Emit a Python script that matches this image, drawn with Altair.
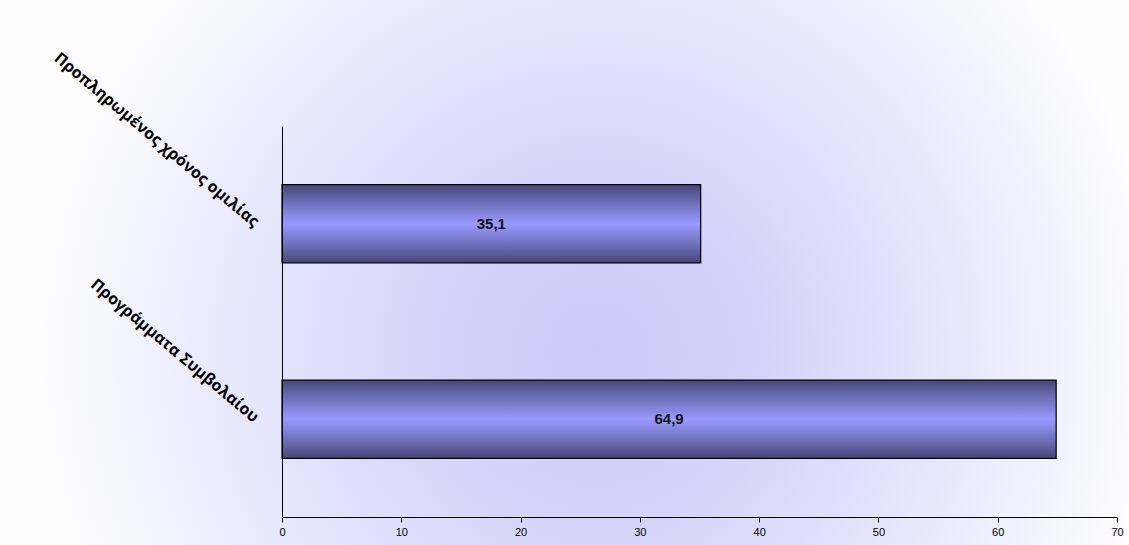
import altair as alt
import pandas as pd

categories = ["Προπληρωμένος χρόνος ομιλίας", "Προγράμματα Συμβολαίου"]
values = [35.1, 64.9]
labels = ["35,1", "64,9"]

df = pd.DataFrame({"cat": categories, "value": values, "label": labels})

W, H = 835, 391
PL, PT, PR, PB = 282, 126, 12, 28

bg = alt.Chart(pd.DataFrame({"a": [0]})).mark_rect(
    fill=alt.RadialGradient(
        gradient="radial",
        x1=0.53, y1=0.57, r1=0.0,
        x2=0.53, y2=0.57, r2=0.5,
        stops=[
            alt.GradientStop(offset=0.0, color="#c9c9f8"),
            alt.GradientStop(offset=0.3, color="#d4d4fa"),
            alt.GradientStop(offset=0.65, color="#e8e8fd"),
            alt.GradientStop(offset=1.0, color="#fdfdff"),
        ],
    ),
    clip=False,
).encode(
    x=alt.value(-PL), x2=alt.value(W + PR),
    y=alt.value(-PT), y2=alt.value(H + PB),
)

yenc = alt.Y(
    "cat:N", sort=categories,
    scale=alt.Scale(paddingInner=0.6, paddingOuter=0.3),
    axis=alt.Axis(
        title=None, ticks=False, domainColor="black", domainWidth=1,
        labelAngle=40, labelAlign="right", labelBaseline="middle",
        labelFont="Open Sans", labelFontWeight="bold", labelFontSize=16,
        labelColor="black", labelPadding=26, labelLimit=0, zindex=2,
    ),
)
xenc = alt.X(
    "value:Q",
    scale=alt.Scale(domain=[0, 70], nice=False),
    axis=alt.Axis(
        title=None, values=[0, 10, 20, 30, 40, 50, 60, 70], grid=False,
        domainColor="black", domainWidth=1.2, tickColor="black", tickSize=5,
        labelFont="Liberation Sans", labelFontSize=11, labelColor="black",
        labelPadding=4, labelFlush=False, zindex=2,
    ),
)

bars = alt.Chart(df).mark_bar(
    fill=alt.LinearGradient(
        gradient="linear", x1=0, x2=0, y1=0, y2=1,
        stops=[
            alt.GradientStop(offset=0.0, color="#464676"),
            alt.GradientStop(offset=0.2, color="#6a6ab0"),
            alt.GradientStop(offset=0.5, color="#9999ff"),
            alt.GradientStop(offset=0.8, color="#6a6ab0"),
            alt.GradientStop(offset=1.0, color="#464676"),
        ],
    ),
    stroke="black", strokeWidth=1.2,
).encode(x=xenc, y=yenc)

text = alt.Chart(df).mark_text(
    font="Liberation Sans", fontWeight="bold", fontSize=15, color="#111111",
    align="center", baseline="middle",
).transform_calculate(mid="datum.value / 2").encode(
    x=alt.X("mid:Q", scale=alt.Scale(domain=[0, 70], nice=False)),
    y=alt.Y("cat:N", sort=categories),
    text="label:N",
)

chart = alt.layer(bg, bars, text).properties(
    width=W, height=H,
    autosize=alt.AutoSizeParams(type="none"),
    padding={"left": PL, "top": PT, "right": PR, "bottom": PB},
).configure_view(stroke=None).configure(background="white")

chart.save("out.html", embed_options={"renderer": "svg", "actions": False})
